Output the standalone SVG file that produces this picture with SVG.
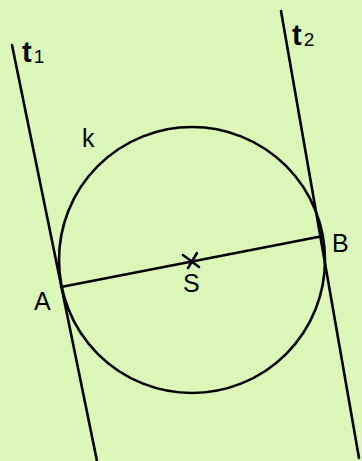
<svg xmlns="http://www.w3.org/2000/svg" width="362" height="461" viewBox="0 0 362 461">
<style>
.ln{stroke:#000;stroke-width:2.6;fill:none;stroke-linecap:round}
.lb{font-family:"Liberation Sans",Arial,sans-serif;font-size:25px;fill:#000}
.t{font-family:"Liberation Sans",Arial,sans-serif;font-size:29px;font-weight:bold;fill:#000}
.sub{font-size:19px;font-weight:normal}
</style>
<rect width="362" height="461" fill="#dbf8b8"/>
<g id="connectors">
<line class="ln" x1="12" y1="45" x2="97" y2="461"/>
<line class="ln" x1="281" y1="11" x2="359" y2="458"/>
<line class="ln" x1="61" y1="287" x2="323" y2="236"/>
</g>
<g id="k"><circle class="ln" cx="192" cy="260" r="133"/><text class="lb" x="82" y="147">k</text></g>
<g id="S"><path class="ln" d="M183 255 L199 267 M188 268 L197 253"/><text class="lb" x="183" y="292">S</text></g>
<g id="A"><text class="lb" x="34" y="310">A</text></g>
<g id="B"><text class="lb" x="332" y="252">B</text></g>
<g id="t1"><text class="t" x="22" y="62">t<tspan class="sub" dx="2" dy="1">1</tspan></text></g>
<g id="t2"><text class="t" x="292" y="45">t<tspan class="sub" dx="2" dy="1">2</tspan></text></g>
</svg>
